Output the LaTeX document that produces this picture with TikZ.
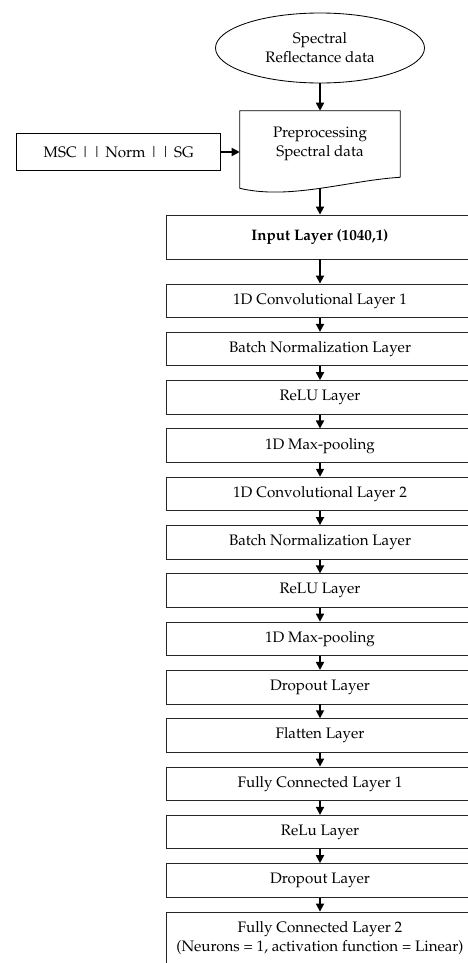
\documentclass[tikz,border=0pt]{standalone}
\usepackage[T1]{fontenc}
\usepackage{mathpazo}
\usepackage{tikz}
\usetikzlibrary{shapes.geometric, arrows.meta, positioning, calc}

\begin{document}
\begin{tikzpicture}[
    font=\fontsize{10.8}{13.5}\selectfont,
    source/.style={draw=black, ellipse, minimum width=5.225cm, minimum height=1.75cm, inner sep=0pt, align=center, line width=0.6pt},
    docbox/.style={minimum width=4.0cm, minimum height=1.65cm, inner sep=0pt, align=center},
    option/.style={draw=black, minimum width=5.1cm, minimum height=0.935cm, inner sep=0pt, align=center, line width=0.6pt},
    layer/.style={draw=black!85, minimum width=7.7cm, minimum height=0.84cm, inner sep=0pt, align=center, line width=0.6pt},
    arrow/.style={-{Triangle[length=2mm, width=2mm]}, line width=1.2pt, draw=black}
  ]
    \useasboundingbox (0,0) rectangle (11.7,-24.075);
    \clip (0,0) rectangle (11.7,-24.075);

    % Data source and preprocessing
    \node[source] (spec) at (8.0, -1.2) {Spectral\\Reflectance data};
    \node[docbox] (prep) at (8.0, -3.6) {Preprocessing\\Spectral data};
    \draw[line width=0.6pt] (prep.south east) -- (prep.north east) -- (prep.north west) -- ([yshift=-0.275cm]prep.south west)
        .. controls ([xshift=1.25cm, yshift=-0.575cm]prep.south west) and ([xshift=-1.275cm, yshift=-0.075cm]prep.south east) .. (prep.south east);
    \coordinate (prepbot) at ([yshift=-0.275cm]prep.south);
    \node[option] (msc) at (2.9675, -3.8) {MSC \textbar\,\textbar{} Norm \textbar\,\textbar{} SG};

    % Network layers
    \node[layer, minimum height=1.1cm] (input) at (8.0, -5.925) {\textbf{Input Layer (1040,1)}};
    \node[layer] (conv1) at (8.0, -7.52) {1D Convolutional Layer 1};
    \node[layer] (bn1) at (8.0, -8.7275) {Batch Normalization Layer};
    \node[layer] (relu1) at (8.0, -9.935) {ReLU Layer};
    \node[layer] (pool1) at (8.0, -11.1425) {1D Max-pooling};
    \node[layer] (conv2) at (8.0, -12.35) {1D Convolutional Layer 2};
    \node[layer] (bn2) at (8.0, -13.5575) {Batch Normalization Layer};
    \node[layer] (relu2) at (8.0, -14.765) {ReLU Layer};
    \node[layer] (pool2) at (8.0, -15.9725) {1D Max-pooling};
    \node[layer] (drop1) at (8.0, -17.18) {Dropout Layer};
    \node[layer] (flat) at (8.0, -18.3875) {Flatten Layer};
    \node[layer] (fc1) at (8.0, -19.595) {Fully Connected Layer 1};
    \node[layer] (relu3) at (8.0, -20.8025) {ReLu Layer};
    \node[layer] (drop2) at (8.0, -22.01) {Dropout Layer};
    \node[layer, minimum height=1.325cm] (fc2) at (8.0, -23.4625) {Fully Connected Layer 2\\(Neurons = 1, activation function = Linear)};

    \draw[arrow] (spec) -- (prep);
    \draw[arrow] (msc.east) -- (msc.east -| prep.west);
    \draw[arrow] (prepbot) -- (input);
    \draw[arrow] (input) -- (conv1);
    \draw[arrow] (conv1) -- (bn1);
    \draw[arrow] (bn1) -- (relu1);
    \draw[arrow] (relu1) -- (pool1);
    \draw[arrow] (pool1) -- (conv2);
    \draw[arrow] (conv2) -- (bn2);
    \draw[arrow] (bn2) -- (relu2);
    \draw[arrow] (relu2) -- (pool2);
    \draw[arrow] (pool2) -- (drop1);
    \draw[arrow] (drop1) -- (flat);
    \draw[arrow] (flat) -- (fc1);
    \draw[arrow] (fc1) -- (relu3);
    \draw[arrow] (relu3) -- (drop2);
    \draw[arrow] (drop2) -- (fc2);
  \end{tikzpicture}
\end{document}
